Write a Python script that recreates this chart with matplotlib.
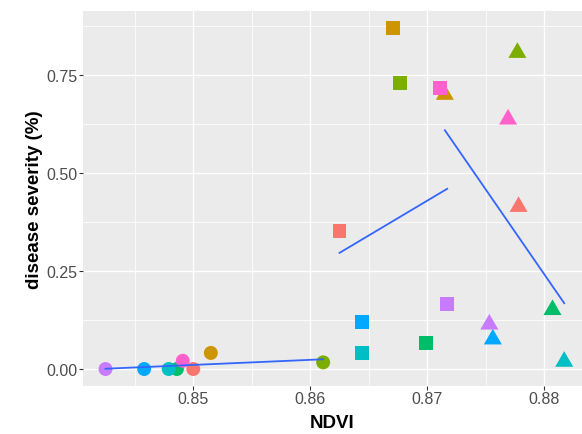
import numpy as np
import matplotlib
matplotlib.use("Agg")
import matplotlib.pyplot as plt
from matplotlib.path import Path

plt.rcParams['font.family'] = ['Liberation Sans', 'DejaVu Sans']

# Plot colours (ggplot hue palette, 8 levels)
group_colors = ['#F8766D', '#CD9600', '#7CAE00', '#00BE67',
                '#00BFC4', '#00A9FF', '#C77CFF', '#FF61CC']

# Circle survey: NDVI and disease severity per plot (same order as colours)
circle_ndvi = [0.8500, 0.8515, 0.8611, 0.8486, 0.8479, 0.8458, 0.8425, 0.8491]
circle_sev = [0.000, 0.041, 0.017, 0.000, 0.000, 0.000, 0.000, 0.021]

# Square survey
square_ndvi = [0.8625, 0.8671, 0.8677, 0.8699, 0.8644, 0.8644, 0.8717, 0.8711]
square_sev = [0.352, 0.869, 0.730, 0.066, 0.040, 0.121, 0.166, 0.716]

# Triangle survey
triangle_ndvi = [0.8778, 0.8715, 0.8777, 0.8807, 0.8817, 0.8756, 0.8753, 0.8769]
triangle_sev = [0.414, 0.700, 0.807, 0.151, 0.019, 0.076, 0.114, 0.637]

x_ticks = [0.85, 0.86, 0.87, 0.88]
x_minor = [0.845, 0.855, 0.865, 0.875]
y_ticks = [0.00, 0.25, 0.50, 0.75]
y_minor = [0.125, 0.375, 0.625, 0.875]
y_labels = ['0.00', '0.25', '0.50', '0.75']

# Triangle marker centred on its centroid
tri_verts = [(0.0, 1.5551), (1.3468, -0.7776), (-1.3468, -0.7776), (0.0, 1.5551)]
tri_marker = Path(tri_verts, [Path.MOVETO, Path.LINETO, Path.LINETO, Path.CLOSEPOLY])

fig = plt.figure(figsize=(5.82, 4.35), dpi=100)
ax = fig.add_axes([0.1421, 0.111, 0.8579, 0.862])
ax.set_facecolor('#EBEBEB')
for s in ax.spines.values():
    s.set_visible(False)

ax.set_xlim(0.84055, 0.88322)
ax.set_ylim(-0.0426, 0.914)

ax.set_xticks(x_ticks)
ax.set_xticks(x_minor, minor=True)
ax.set_yticks(y_ticks)
ax.set_yticks(y_minor, minor=True)
ax.set_xticklabels([f'{v:.2f}' for v in x_ticks])
ax.set_yticklabels(y_labels)

ax.grid(True, which='major', color='white', linewidth=1.0, zorder=0)
ax.grid(True, which='minor', color='white', linewidth=0.55, zorder=0)
ax.set_axisbelow(True)

ax.tick_params(axis='both', which='major', length=2.6, width=0.8, color='#333333',
               labelsize=11.5, labelcolor='#4D4D4D', pad=1.5)
ax.tick_params(axis='both', which='minor', length=0)

# Points: triangles, then squares, then circles
ax.scatter(triangle_ndvi, triangle_sev, c=group_colors, marker=tri_marker, s=225,
           edgecolors='none', zorder=3)
ax.scatter(square_ndvi, square_sev, c=group_colors, marker='s', s=100,
           edgecolors='none', zorder=3)
ax.scatter(circle_ndvi, circle_sev, c=group_colors, marker='o', s=101,
           edgecolors='none', zorder=3)

# Linear fits per survey
for xs, ys in [(circle_ndvi, circle_sev), (square_ndvi, square_sev),
               (triangle_ndvi, triangle_sev)]:
    xs = np.asarray(xs)
    ys = np.asarray(ys)
    slope, intercept = np.polyfit(xs, ys, 1)
    xf = np.linspace(xs.min(), xs.max(), 80)
    ax.plot(xf, slope * xf + intercept, color='#3366FF', linewidth=1.3, zorder=4)

ax.set_xlabel('NDVI', fontsize=13.5, fontweight='bold', color='black', labelpad=5.5)
ax.set_ylabel('disease severity (%)', fontsize=13.5, fontweight='bold', color='black',
              labelpad=2)

fig.savefig('out.png', dpi=100, facecolor='white')
